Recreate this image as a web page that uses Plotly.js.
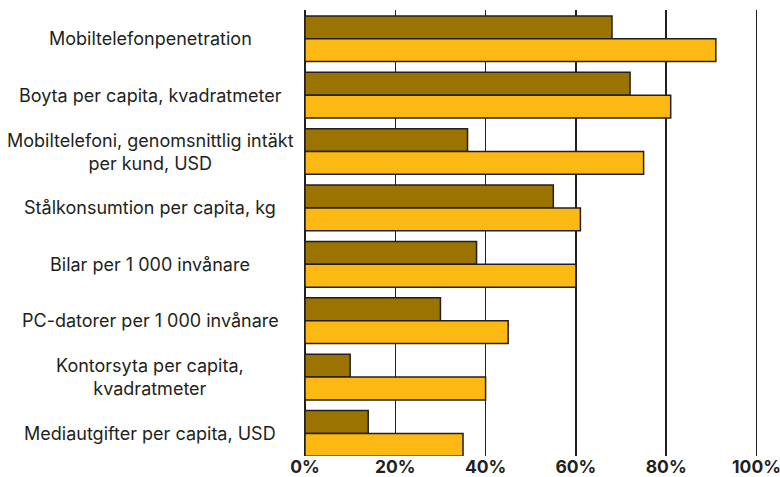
<!DOCTYPE html>
<html>
<head>
<meta charset="utf-8">
<script src="https://cdn.plot.ly/plotly-3.0.1.min.js"></script>
<style>html,body{margin:0;padding:0;background:#fff;}#chart{width:780px;height:477px;}</style>
</head>
<body>
<div id="chart"></div>
<script>
const categories = [
  "Mobiltelefonpenetration",
  "Boyta per capita, kvadratmeter",
  "Mobiltelefoni, genomsnittlig intäkt<br>per kund, USD",
  "Stålkonsumtion per capita, kg",
  "Bilar per 1 000 invånare",
  "PC-datorer per 1 000 invånare",
  "Kontorsyta per capita,<br>kvadratmeter",
  "Mediautgifter per capita, USD"
];
const seriesBrown = [68, 72, 36, 55, 38, 30, 10, 14];
const seriesYellow = [91, 81, 75, 61, 60, 45, 40, 35];
const xTicks = [0, 20, 40, 60, 80, 100];

const ink = '#231f20';
const traces = [
  {type:'bar', orientation:'h', y:categories, x:seriesBrown, name:'A',
   marker:{color:'#9b7300', line:{color:ink, width:1.5}}, hoverinfo:'none'},
  {type:'bar', orientation:'h', y:categories, x:seriesYellow, name:'B',
   marker:{color:'#fdb913', line:{color:ink, width:1.5}}, hoverinfo:'none'}
];
const annotations = categories.map(c => ({
  xref:'paper', yref:'y', x:-155/456, y:c, text:c, showarrow:false,
  xanchor:'center', yanchor:'middle', align:'center',
  font:{family:'Inter, Liberation Sans, sans-serif', size:18, color:ink}
}));
const layout = {
  width:780, height:477,
  margin:{l:305, r:19, t:10, b:21},
  paper_bgcolor:'#fff', plot_bgcolor:'#fff',
  barmode:'group', bargap:0.19, bargroupgap:0,
  showlegend:false,
  xaxis:{range:[0,101], tickvals:xTicks, ticktext:xTicks.map(v=>v+'%'),
    showgrid:true, gridcolor:ink, gridwidth:1.5, zeroline:true, zerolinecolor:ink, zerolinewidth:1.5,
    showline:false, ticks:'', fixedrange:true, ticklabelstandoff:-2, ticklabeloverflow:'allow',
    tickfont:{family:'Inter, Liberation Sans, sans-serif', size:17.5, color:ink, weight:'bold'}},
  yaxis:{type:'category', range:[7.4,-0.51], showticklabels:false, showgrid:false, zeroline:false, ticks:'', fixedrange:true},
  annotations:annotations
};
Plotly.newPlot('chart', traces, layout, {displayModeBar:false, staticPlot:true});
</script>
</body>
</html>
